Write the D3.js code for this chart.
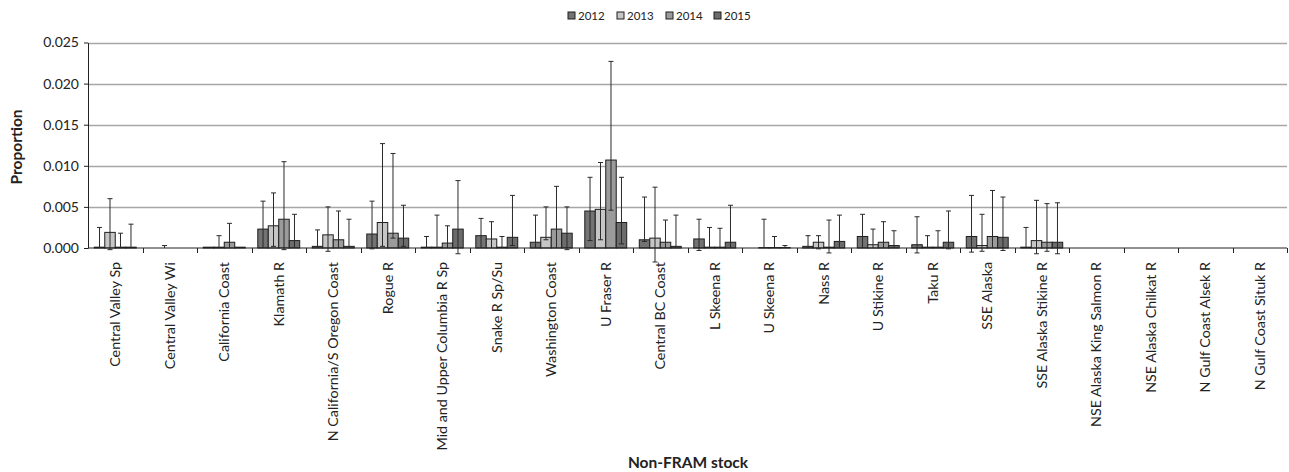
<!DOCTYPE html>
<html>
<head>
<meta charset="utf-8">
<script src="https://cdn.jsdelivr.net/npm/d3@7"></script>
<style>
  body { margin: 0; background: #fff; }
  svg text { font-family: Lato, "Open Sans", sans-serif; fill: #222; }
</style>
</head>
<body>
<svg id="chart" width="1289" height="472"></svg>
<script>
var stocks = ["Central Valley Sp", "Central Valley Wi", "California Coast", "Klamath R",
  "N California/S Oregon Coast", "Rogue R", "Mid and Upper Columbia R Sp", "Snake R Sp/Su",
  "Washington Coast", "U Fraser R", "Central BC Coast", "L Skeena R", "U Skeena R", "Nass R",
  "U Stikine R", "Taku R", "SSE Alaska", "SSE Alaska Stikine R", "NSE Alaska King Salmon R",
  "NSE Alaska Chilkat R", "N Gulf Coast Alsek R", "N Gulf Coast Situk R"];
var years = ["2012", "2013", "2014", "2015"];
var yTicks = [0, 0.005, 0.010, 0.015, 0.020, 0.025];

// mean proportion per stock, one array per year
var val2012 = [0.0001, 0, 0.0001, 0.0023, 0.0002, 0.0017, 0.0001, 0.0015, 0.0007, 0.0045, 0.0010, 0.0011, 0, 0.0002, 0.0014, 0.0004, 0.0014, 0.0001, 0, 0, 0, 0];
var val2013 = [0.0019, 0, 0.0001, 0.0027, 0.0016, 0.0031, 0.0001, 0.0011, 0.0013, 0.0047, 0.0012, 0.0001, 0.00005, 0.0007, 0.0004, 0.0001, 0.0003, 0.0009, 0, 0, 0, 0];
var val2014 = [0.0001, 0, 0.0007, 0.0035, 0.0010, 0.0018, 0.0006, 0.0001, 0.0023, 0.0107, 0.0007, 0.0001, 0.00005, 0.0001, 0.0007, 0.0001, 0.0014, 0.0007, 0, 0, 0, 0];
var val2015 = [0.0001, 0, 0.0001, 0.0009, 0.0002, 0.0012, 0.0023, 0.0013, 0.0018, 0.0031, 0.0002, 0.0007, 0.00005, 0.0008, 0.0003, 0.0007, 0.0013, 0.0007, 0, 0, 0, 0];

// upper end of error bars
var hi2012 = [0.0025, 0, 0, 0.0057, 0.0022, 0.0057, 0.0014, 0.0036, 0.0040, 0.0086, 0.0062, 0.0035, 0, 0.0015, 0.0041, 0.0038, 0.0064, 0.0025, 0, 0, 0, 0];
var hi2013 = [0.0060, 0.0003, 0.0015, 0.0067, 0.0050, 0.0127, 0.0040, 0.0032, 0.0050, 0.0104, 0.0074, 0.0025, 0.0035, 0.0015, 0.0023, 0.0015, 0.0041, 0.0058, 0, 0, 0, 0];
var hi2014 = [0.0018, 0, 0.0030, 0.0105, 0.0045, 0.0115, 0.0027, 0.0014, 0.0075, 0.0227, 0.0034, 0.0024, 0.0014, 0.0034, 0.0032, 0.0021, 0.0070, 0.0054, 0, 0, 0, 0];
var hi2015 = [0.0029, 0, 0, 0.0041, 0.0035, 0.0052, 0.0082, 0.0064, 0.0050, 0.0086, 0.0040, 0.0052, 0.0003, 0.0040, 0.0021, 0.0045, 0.0062, 0.0055, 0, 0, 0, 0];

// lower end of error bars
var lo2012 = [0, 0, 0, 0, 0, -0.0001, 0, 0, 0, 0.0009, 0.0008, -0.0003, 0, 0, 0, -0.0006, -0.0005, 0, 0, 0, 0, 0];
var lo2013 = [-0.0002, 0, 0, 0.0002, -0.0004, 0.0002, 0, 0, 0.0010, 0.0010, -0.0017, 0, 0, -0.0001, 0, 0, -0.0004, -0.0007, 0, 0, 0, 0];
var lo2014 = [0, 0, 0, -0.0002, 0, 0.0012, 0, 0, 0, 0.0046, 0, 0, 0, -0.0006, 0, 0, 0, -0.0004, 0, 0, 0, 0];
var lo2015 = [0, 0, 0, 0, 0, 0.0002, -0.0007, 0.0003, -0.0002, 0.0005, 0, 0, 0, 0, 0, -0.0001, -0.0003, -0.0007, 0, 0, 0, 0];

var colors = ["#737373", "#c6c6c6", "#9b9b9b", "#6c6c6c"];

var vals = [val2012, val2013, val2014, val2015];
var his = [hi2012, hi2013, hi2014, hi2015];
var los = [lo2012, lo2013, lo2014, lo2015];

var rows = stocks.map(function(s, i) {
  return {
    stock: s,
    bars: years.map(function(y, j) {
      return { year: y, v: vals[j][i], hi: his[j][i], lo: los[j][i], c: colors[j] };
    })
  };
});

var svg = d3.select("#chart");
var margin = { top: 42.5, right: 2, bottom: 224, left: 88 };
var width = 1289, height = 472;

var x0 = d3.scaleBand().domain(stocks).range([margin.left, width - margin.right]).padding(0);
var x1 = d3.scaleBand().domain(years).range([0, x0.bandwidth()]).paddingInner(0).paddingOuter(0.6);
var y = d3.scaleLinear().domain([0, 0.025]).range([height - margin.bottom, margin.top]);

// gridlines
svg.append("g")
  .selectAll("line")
  .data(yTicks.slice(1))
  .enter().append("line")
  .attr("x1", margin.left).attr("x2", width - margin.right)
  .attr("y1", function(d) { return Math.round(y(d)) + 0.5; })
  .attr("y2", function(d) { return Math.round(y(d)) + 0.5; })
  .attr("stroke", "#a6a6a6").attr("stroke-width", 1.3);

// bars
var groups = svg.append("g")
  .selectAll("g")
  .data(rows)
  .enter().append("g")
  .attr("transform", function(d) { return "translate(" + x0(d.stock) + ",0)"; });

groups.selectAll("rect")
  .data(function(d) { return d.bars; })
  .enter().append("rect")
  .attr("x", function(d) { return x1(d.year); })
  .attr("width", x1.bandwidth())
  .attr("y", function(d) { return y(d.v); })
  .attr("height", function(d) { return y(0) - y(d.v); })
  .attr("fill", function(d) { return d.c; })
  .attr("stroke", "#1e1e1e").attr("stroke-width", 1);

// error bars
var eb = groups.selectAll("g.err")
  .data(function(d) { return d.bars.filter(function(b) { return b.hi > 0 || b.lo < 0; }); })
  .enter().append("g").attr("class", "err")
  .attr("transform", function(d) { return "translate(" + (x1(d.year) + x1.bandwidth() / 2) + ",0)"; })
  .attr("stroke", "#2a2a2a").attr("stroke-width", 1);

eb.append("line")
  .attr("x1", 0).attr("x2", 0)
  .attr("y1", function(d) { return y(d.hi); })
  .attr("y2", function(d) { return y(d.lo); });
eb.append("line")
  .attr("x1", -2.5).attr("x2", 2.5)
  .attr("y1", function(d) { return y(d.hi); })
  .attr("y2", function(d) { return y(d.hi); });
eb.filter(function(d) { return d.lo !== 0; }).append("line")
  .attr("x1", -2.5).attr("x2", 2.5)
  .attr("y1", function(d) { return y(d.lo); })
  .attr("y2", function(d) { return y(d.lo); });

// y axis
var yAxis = svg.append("g")
  .attr("transform", "translate(" + margin.left + ",0)")
  .call(d3.axisLeft(y).tickValues(yTicks).tickFormat(d3.format(".3f"))
    .tickSize(4).tickSizeOuter(0).tickPadding(5));
yAxis.select(".domain").attr("stroke", "#222");
yAxis.selectAll(".tick line").attr("stroke", "#222");
yAxis.selectAll("text").style("font-size", "14px").attr("fill", "#222");

// x axis with ticks at category boundaries
var xAxis = svg.append("g")
  .attr("transform", "translate(0," + y(0) + ")");
xAxis.append("line")
  .attr("x1", margin.left).attr("x2", width - margin.right)
  .attr("stroke", "#222");
xAxis.selectAll("line.tk")
  .data(stocks)
  .enter().append("line").attr("class", "tk")
  .attr("x1", function(d) { return Math.round(x0(d) + x0.bandwidth()) + 0.5; })
  .attr("x2", function(d) { return Math.round(x0(d) + x0.bandwidth()) + 0.5; })
  .attr("y1", 0).attr("y2", 5)
  .attr("stroke", "#222");
xAxis.selectAll("text")
  .data(stocks)
  .enter().append("text")
  .attr("transform", function(d) {
    return "translate(" + (x0(d) + x0.bandwidth() / 2 + 5) + ",14) rotate(-90)";
  })
  .attr("text-anchor", "end")
  .style("font-size", "14.3px")
  .text(function(d) { return d; });

// axis titles
svg.append("text")
  .attr("transform", "translate(22,147) rotate(-90)")
  .attr("text-anchor", "middle")
  .style("font-size", "15.5px").style("font-weight", "bold")
  .text("Proportion");
svg.append("text")
  .attr("x", 688).attr("y", 468)
  .attr("text-anchor", "middle")
  .style("font-size", "15.5px").style("font-weight", "bold")
  .text("Non-FRAM stock");

// legend
var legX = [568, 617, 666, 714];
var leg = svg.append("g")
  .selectAll("g")
  .data(years)
  .enter().append("g")
  .attr("transform", function(d, i) { return "translate(" + legX[i] + ",12)"; });
leg.append("rect")
  .attr("width", 7).attr("height", 7)
  .attr("fill", function(d, i) { return colors[i]; })
  .attr("stroke", "#1e1e1e");
leg.append("text")
  .attr("x", 10).attr("y", 8)
  .style("font-size", "11.5px")
  .text(function(d) { return d; });
</script>
</body>
</html>
